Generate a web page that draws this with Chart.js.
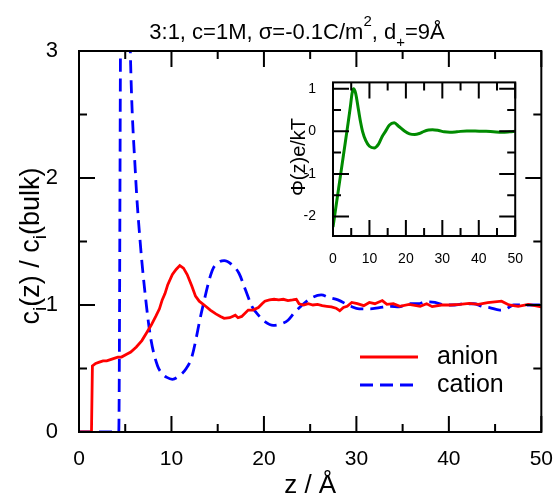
<!DOCTYPE html>
<html><head><meta charset="utf-8">
<script src="https://cdn.jsdelivr.net/npm/chart.js@4.4.1/dist/chart.umd.min.js"></script>
<style>
html,body{margin:0;padding:0;background:#fff}
#wrap{position:relative;width:560px;height:498px;overflow:hidden}
#main{position:absolute;left:0;top:0}
#inset{position:absolute;left:280px;top:65px}
</style></head><body>
<div id="wrap"><canvas id="main" width="560" height="498"></canvas><canvas id="inset" width="250" height="200"></canvas></div>
<script>
const FONT="'Liberation Sans', Arial, Helvetica, sans-serif";

// main plot: anion (red)
const anionZ=[0,1.35,1.45,1.8,2.2,2.6,3.0,3.4,3.8,4.2,4.6,5.1,5.6,6.2,6.8,7.3,7.8,8.3,8.7,9.0,9.3,9.6,10.1,10.5,10.9,11.3,11.7,12.2,12.6,13.0,13.7,14.2,14.8,15.3,15.7,16.3,16.6,16.9,17.2,17.6,18.3,18.8,19.4,19.8,20.1,20.6,21.1,21.6,22.1,22.6,23.1,23.5,23.8,24.3,24.8,25.3,25.8,26.3,26.8,27.3,27.8,28.2,28.6,29.0,29.5,30.1,30.8,31.4,32.0,32.8,33.3,34.0,34.7,35.7,36.9,37.6,38.2,39.2,40.2,41.2,42.2,43.2,44.2,45.7,46.5,47.5,48.6,50];
const anionC=[0,0,0.52,0.54,0.55,0.56,0.56,0.57,0.58,0.59,0.59,0.61,0.63,0.67,0.72,0.78,0.84,0.91,0.97,1.04,1.09,1.16,1.24,1.28,1.31,1.29,1.24,1.15,1.07,1.03,0.99,0.96,0.93,0.91,0.895,0.9,0.91,0.92,0.9,0.91,0.96,0.96,0.98,1.01,1.03,1.04,1.045,1.04,1.045,1.035,1.04,1.045,1.01,1.0,1.01,1.0,1.005,0.995,0.99,0.985,0.975,0.955,0.98,0.99,1.02,1.01,0.995,1.02,1.01,1.035,1.005,1.01,0.99,1.005,0.99,1.01,0.987,1.0,1.0,1.005,1.013,1.005,1.018,1.03,1.0,0.99,1.005,0.985];
// main plot: cation (blue dashed)
const cationZ=[0,4.3,4.5,4.8,5.1,5.55,6.1,6.6,7.3,7.8,8.5,9.0,9.5,10.1,10.8,11.6,12.2,13.3,14.4,15.0,15.7,16.5,17.3,18.0,18.7,19.4,20.1,21.0,21.8,22.6,23.3,24.0,25.0,26.2,27.0,28.0,29.4,30.3,31.5,32.5,33.7,34.6,35.6,36.7,37.5,38.5,39.5,40.6,41.7,42.7,43.6,44.4,45.5,46.2,47.0,48.5,50];
const cationC=[0,0,3.3,8,5,3.0,2.04,1.51,0.99,0.72,0.52,0.46,0.43,0.415,0.44,0.5,0.59,0.96,1.27,1.33,1.35,1.32,1.25,1.12,0.99,0.92,0.87,0.84,0.85,0.88,0.94,0.99,1.05,1.08,1.06,1.04,0.99,0.97,0.97,0.98,0.99,0.985,1.01,1.01,1.025,1.02,1.0,1.0,1.01,1.01,0.99,0.98,0.96,0.97,1.0,1.0,1.0];
// inset: potential (green)
const phiZ=[0,1,2,3,4,4.8,5.2,5.6,6.2,7,7.6,8.1,9,10,11.3,12.5,13.5,14.4,15.5,16.8,18,19.7,21,22.4,23.7,25,26.2,27.3,29,30.5,32.1,34,36.7,39,42,44,46.4,48.5,50];
const phiV=[-2.25,-1.66,-1.07,-0.48,0.11,0.6,0.88,1.0,0.9,0.5,0.2,0,-0.22,-0.35,-0.39,-0.3,-0.12,0,0.15,0.2,0.12,0,-0.06,-0.075,-0.05,0,0.03,0.04,0.02,-0.01,-0.02,-0.01,0.01,0.005,0,-0.01,-0.02,-0.01,0];

const mainXMajor=[0,10,20,30,40,50], mainXMinor=[5,15,25,35,45];
const mainYMajor=[0,1,2,3], mainYMinor=[0.5,1.5,2.5];
const insetXMajor=[0,10,20,30,40,50], insetXMinor=[5,15,25,35,45];
const insetYMajor=[-2,-1,0,1], insetYMinor=[-1.5,-0.5,0.5];
const legendLabels=['anion','cation'];

const pts=(xs,ys)=>xs.map((x,i)=>({x,y:ys[i]}));

function drawRuns(ctx,runs,x,y){
  let w=0;runs.forEach(r=>{ctx.font=r.s+'px '+FONT;w+=ctx.measureText(r.t).width;});
  let cx=x-w/2;
  runs.forEach(r=>{ctx.font=r.s+'px '+FONT;ctx.fillText(r.t,cx,y+(r.dy||0));cx+=ctx.measureText(r.t).width;});
}

function frameTicks(xMaj,xMin,yMaj,yMin,big,small){
  return {id:'frameTicks',afterDatasetsDraw(chart){
    const {ctx,chartArea:a,scales:{x,y}}=chart;
    ctx.save();ctx.strokeStyle='#000';ctx.lineWidth=2;ctx.beginPath();
    const tx=(vals,len)=>vals.forEach(v=>{const p=x.getPixelForValue(v);ctx.moveTo(p,a.bottom);ctx.lineTo(p,a.bottom-len);ctx.moveTo(p,a.top);ctx.lineTo(p,a.top+len);});
    const ty=(vals,len)=>vals.forEach(v=>{const p=y.getPixelForValue(v);ctx.moveTo(a.left,p);ctx.lineTo(a.left+len,p);ctx.moveTo(a.right,p);ctx.lineTo(a.right-len,p);});
    tx(xMaj,big);tx(xMin,small);ty(yMaj,big);ty(yMin,small);
    ctx.stroke();
    ctx.strokeRect(a.left,a.top,a.right-a.left,a.bottom-a.top);
    ctx.restore();
  }};
}

const mainText={id:'mainText',afterDraw(chart){
  const ctx=chart.ctx,a=chart.chartArea;
  ctx.save();ctx.fillStyle='#000';ctx.textBaseline='alphabetic';
  drawRuns(ctx,[{t:'3:1, c=1M, σ=-0.1C/m',s:22},{t:'2',s:15,dy:-13},{t:', d',s:22},{t:'+',s:15,dy:8},{t:'=9Å',s:22}],297,39);
  ctx.font='26px '+FONT;ctx.textAlign='center';
  ctx.fillText('z / Å',(a.left+a.right)/2,493);
  ctx.textAlign='left';
  ctx.save();ctx.translate(39,246);ctx.rotate(-Math.PI/2);
  drawRuns(ctx,[{t:'c',s:27},{t:'i',s:19,dy:7},{t:'(z) / c',s:27},{t:'i',s:19,dy:7},{t:'(bulk)',s:27}],0,0);
  ctx.restore();
  // legend
  const ds=chart.data.datasets;
  [0,1].forEach(i=>{
    const yy=357+i*28;
    ctx.save();ctx.strokeStyle=ds[i].borderColor;ctx.lineWidth=3;ctx.setLineDash(ds[i].borderDash||[]);
    ctx.beginPath();ctx.moveTo(360,yy);ctx.lineTo(418,yy);ctx.stroke();ctx.restore();
    ctx.font='25px '+FONT;ctx.textBaseline='middle';ctx.fillText(legendLabels[i],437,yy);
  });
  ctx.restore();
}};

const insetText={id:'insetText',afterDraw(chart){
  const ctx=chart.ctx;
  ctx.save();ctx.fillStyle='#000';ctx.font='20px '+FONT;ctx.textAlign='center';
  ctx.translate(25,92);ctx.rotate(-Math.PI/2);ctx.fillText('Φ(z)e/kT',0,0);
  ctx.restore();
}};

const setTicks=vals=>s=>{s.ticks=vals.map(v=>({value:v}));};

new Chart(document.getElementById('main'),{
  type:'line',
  data:{datasets:[
    {label:'anion',data:pts(anionZ,anionC),borderColor:'#ff0000',borderWidth:2.8,pointRadius:0,tension:0},
    {label:'cation',data:pts(cationZ,cationC),borderColor:'#0000ff',borderWidth:2.8,borderDash:[13,7],pointRadius:0,cubicInterpolationMode:'monotone'}
  ]},
  options:{responsive:false,animation:false,parsing:false,
    layout:{padding:{top:51,right:15,left:0,bottom:0}},
    plugins:{legend:{display:false},tooltip:{enabled:false},title:{display:false}},
    scales:{
      x:{type:'linear',min:0,max:50,afterFit(s){s.height=66;},afterBuildTicks:setTicks(mainXMajor),
        grid:{display:false},border:{display:false},
        ticks:{color:'#000',padding:7,font:{family:FONT,size:21},maxRotation:0}},
      y:{type:'linear',min:0,max:3,afterFit(s){s.width=79;},afterBuildTicks:setTicks(mainYMajor),
        grid:{display:false},border:{display:false},
        ticks:{color:'#000',padding:13,font:{family:FONT,size:22}}}
    }},
  plugins:[frameTicks(mainXMajor,mainXMinor,mainYMajor,mainYMinor,16,8),mainText]
});

new Chart(document.getElementById('inset'),{
  type:'line',
  data:{datasets:[
    {label:'phi',data:pts(phiZ,phiV),borderColor:'rgb(0,139,0)',borderWidth:3,pointRadius:0,cubicInterpolationMode:'monotone'}
  ]},
  options:{responsive:false,animation:false,parsing:false,
    layout:{padding:{top:11,right:10,left:0,bottom:0}},
    plugins:{legend:{display:false},tooltip:{enabled:false}},
    scales:{
      x:{type:'linear',min:0,max:50,afterFit(s){s.height=29;},afterBuildTicks:setTicks(insetXMajor),
        grid:{display:false},border:{display:false},
        ticks:{color:'#000',padding:7,font:{family:FONT,size:14},maxRotation:0}},
      y:{type:'linear',min:-2.46,max:1.15,afterFit(s){s.width=53;},afterBuildTicks:setTicks(insetYMajor),
        grid:{display:false},border:{display:false},
        ticks:{color:'#000',padding:9,font:{family:FONT,size:14}}}
    }},
  plugins:[frameTicks(insetXMajor,insetXMinor,insetYMajor,insetYMinor,16,8),insetText]
});
</script>
</body></html>
